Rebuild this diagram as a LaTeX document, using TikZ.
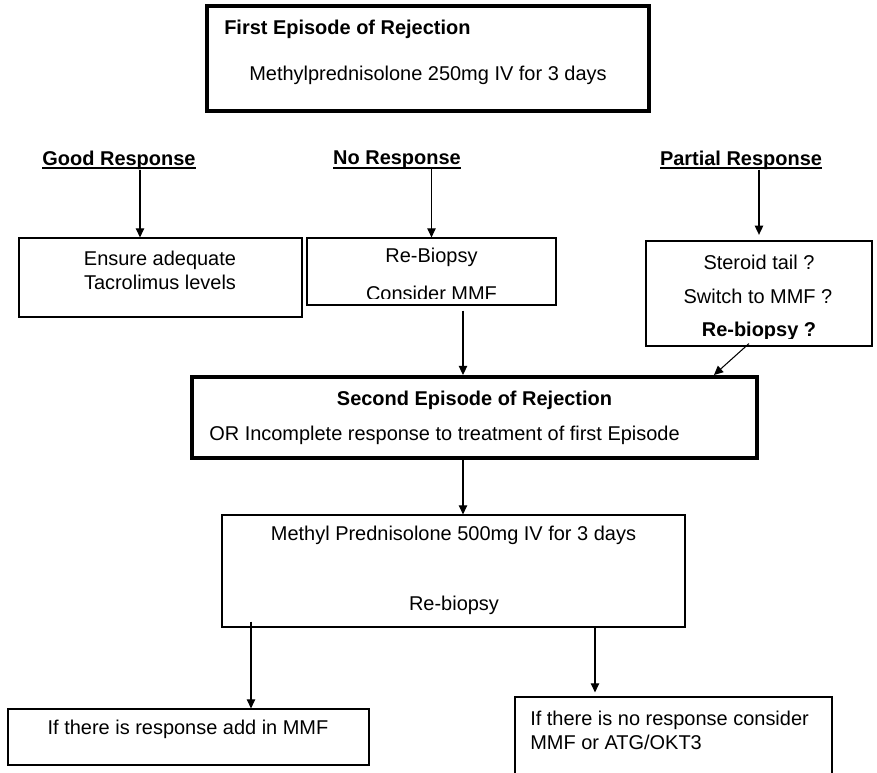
\documentclass[tikz,border=0pt]{standalone}
\usepackage{fontspec}
\setmainfont{Liberation Sans}
\usepackage{tikz}
\usetikzlibrary{positioning, arrows.meta}

\newcommand{\headline}[1]{\setbox0\hbox{#1}\rlap{\rule[-3pt]{\wd0}{1.4pt}}\box0}

\begin{document}
\begin{tikzpicture}[
    txt/.style={inner sep=0pt, font=\fontsize{14.2}{17}\selectfont},
    head/.style={txt, font=\fontsize{14.2}{17}\selectfont\bfseries},
    box/.style={draw, rectangle, line width=0.8pt, inner sep=0pt},
    thickbox/.style={box, line width=2.8pt},
    arr/.style={-{Triangle[length=6.5pt, width=6pt]}, line width=0.75pt}
]
    \useasboundingbox (0,0) rectangle (21.925,19.325);

    % === PREMIER EPISODE ===
    \node[thickbox, minimum width=11.05cm, minimum height=2.625cm] (first) at (10.7,17.8625) {};
    \node[head, anchor=west] (firsttitle) at (5.6,18.6) {First Episode of Rejection};
    \node[txt] (firstdose) at (10.7,17.45) {Methylprednisolone 250mg IV for 3 days};

    % Reponses
    \node[head] (goodhead) at (2.975,15.325) {\headline{Good Response}};
    \node[head] (nohead) at (9.925,15.325) {\headline{No Response}};
    \node[head] (parthead) at (18.525,15.325) {\headline{Partial Response}};

    % Bonne reponse
    \node[box, minimum width=7.075cm, minimum height=1.975cm] (ensure) at (4.0125,12.3875) {};
    \node[txt, align=center] (ensuretxt) at (4.0,12.575) {Ensure adequate\\Tacrolimus levels};

    % Pas de reponse
    \node[box, minimum width=6.225cm, minimum height=1.675cm] (nobox) at (10.7875,12.5375) {};
    \begin{scope}
        \clip (7.675,13.9) rectangle (13.9,11.85);
        \node[txt] (rebiopsy) at (10.7875,12.9) {Re-Biopsy};
        \node[txt] (mmf) at (10.7875,12.0) {Consider MMF};
    \end{scope}

    % Reponse partielle
    \node[box, minimum width=5.65cm, minimum height=2.625cm] (partbox) at (18.975,11.9875) {};
    \begin{scope}
        \clip (16.15,13.0) rectangle (21.8,10.85);
        \node[txt] (tail) at (18.975,12.775) {Steroid tail ?};
        \node[txt] (switch) at (18.95,11.925) {Switch to MMF ?};
        \node[head] (rebiopsyq) at (18.975,11.05) {Re-biopsy ?};
    \end{scope}

    % === DEUXIEME EPISODE ===
    \node[thickbox, minimum width=14.125cm, minimum height=2.025cm] (second) at (11.8625,8.8875) {};
    \node[head] (secondtitle) at (11.8625,9.325) {Second Episode of Rejection};
    \node[txt, anchor=west] (secondor) at (5.225,8.45) {OR Incomplete response to treatment of first Episode};

    % Traitement
    \node[box, minimum width=11.575cm, minimum height=2.8cm] (third) at (11.3375,5.05) {};
    \node[txt] (thirddose) at (11.3375,5.95) {Methyl Prednisolone 500mg IV for 3 days};
    \node[txt] (thirdbiopsy) at (11.35,4.2) {Re-biopsy};

    % Issues
    \node[box, minimum width=9.025cm, minimum height=1.4cm] (yesbox) at (4.7125,0.9) {};
    \node[txt] (yestxt) at (4.7,1.1) {If there is response add in MMF};
    \node[box, minimum width=7.925cm, minimum height=2.575cm] (norespbox) at (16.8375,0.6125) {};
    \node[txt, anchor=west, align=left] (noresptxt) at (13.25,1.0625) {If there is no response consider\\MMF or ATG/OKT3};

    % Fleches
    \coordinate (gx) at ([xshift=-0.5125cm]ensure.north);
    \draw[arr] (goodhead.south -| gx) -- (gx);
    \draw[arr] (nohead.south -| nobox.north) -- (nobox.north);
    \draw[arr, shorten >=0.14cm] (parthead.south -| partbox.north) -- (partbox.north);

    \coordinate (nx) at ([xshift=-0.2875cm]second.north);
    \draw[arr, shorten <=0.125cm] (nobox.south -| nx) -- (nx);
    \draw[arr] ([xshift=-0.25cm, yshift=0.075cm]partbox.south) -- ([xshift=-1.125cm]second.north east);
    \draw[arr] (second.south -| nx) -- (third.north -| nx);

    \coordinate (lx) at ([xshift=1.5625cm]yesbox.north);
    \draw[arr, shorten <=-0.15cm] (third.south -| lx) -- (lx);
    \coordinate (rx) at ([xshift=-1.9625cm]norespbox.north);
    \draw[arr, shorten >=0.1cm] (third.south -| rx) -- (rx);
\end{tikzpicture}
\end{document}
